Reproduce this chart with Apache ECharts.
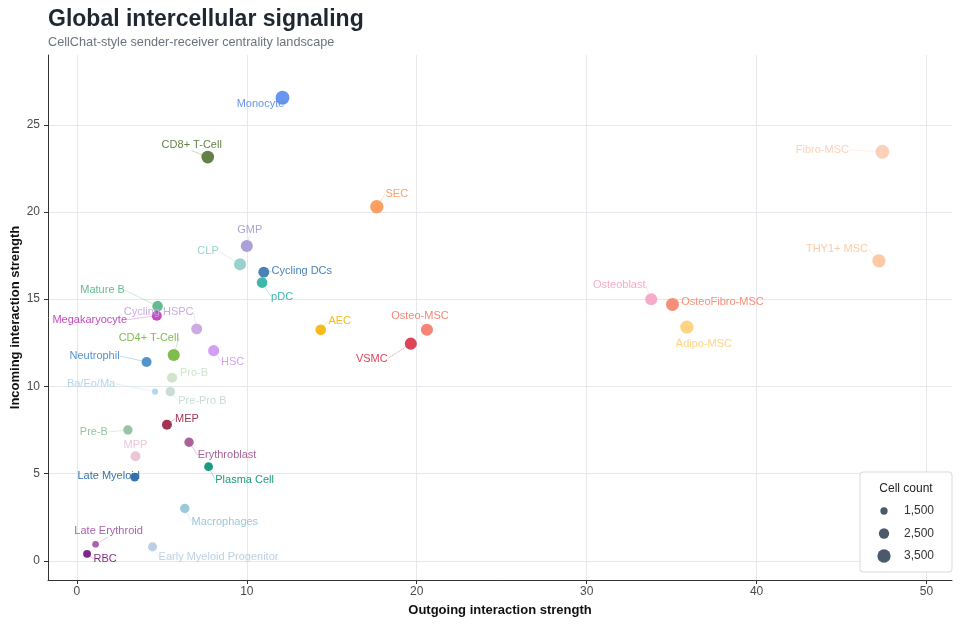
<!DOCTYPE html>
<html>
<head>
<meta charset="utf-8">
<title>Global intercellular signaling</title>
<script src="https://cdn.jsdelivr.net/npm/echarts@6/dist/echarts.min.js"></script>
<style>
  html, body { margin: 0; padding: 0; background: #fff; }
  #chart { width: 960px; height: 625px; }
</style>
</head>
<body>
<div id="chart"></div>
<script>
// values
const cellTypes = [
  'Monocyte', 'CD8+ T-Cell', 'Fibro-MSC', 'SEC', 'GMP', 'CLP', 'Cycling DCs', 'pDC',
  'THY1+ MSC', 'Osteoblast', 'OsteoFibro-MSC', 'Adipo-MSC', 'Mature B', 'Megakaryocyte',
  'Cycling HSPC', 'AEC', 'Osteo-MSC', 'VSMC', 'CD4+ T-Cell', 'HSC', 'Neutrophil', 'Pro-B',
  'Ba/Eo/Ma', 'Pre-Pro B', 'MEP', 'Pre-B', 'Erythroblast', 'MPP', 'Plasma Cell',
  'Late Myeloid', 'Macrophages', 'Late Erythroid', 'Early Myeloid Progenitor', 'RBC'
]
const outgoing = [
  12.1, 7.7, 47.4, 17.65, 10.0, 9.6, 11.0, 10.9,
  47.2, 33.8, 35.05, 35.9, 4.75, 4.7,
  7.05, 14.35, 20.6, 19.65, 5.7, 8.05, 4.1, 5.6,
  4.6, 5.5, 5.3, 3.0, 6.6, 3.45, 7.75,
  3.4, 6.35, 1.1, 4.45, 0.6
]
const incoming = [
  26.55, 23.15, 23.45, 20.3, 18.05, 17.0, 16.55, 15.95,
  17.2, 15.0, 14.7, 13.4, 14.6, 14.05,
  13.3, 13.25, 13.25, 12.45, 11.8, 12.05, 11.4, 10.5,
  9.7, 9.7, 7.8, 7.5, 6.8, 6.0, 5.4,
  4.8, 3.0, 0.95, 0.8, 0.4
]
const cellCounts = [
  3700, 3300, 3700, 3500, 3100, 3100, 2700, 2600,
  3500, 3100, 3400, 3500, 2600, 2400,
  2700, 2600, 3100, 3100, 3100, 2800, 2400, 2400,
  1100, 2200, 2400, 2200, 2200, 2400, 2000,
  2000, 2200, 1300, 2100, 1700
]
const legendCounts = [1500, 2500, 3500]
const xTicks = [0, 10, 20, 30, 40, 50]
const yTicks = [0, 5, 10, 15, 20, 25]

// styling
const palette = [
  '#5f8fee', '#5b7a3c', '#fbcfb6', '#fc9a57', '#a99bd8', '#93cfc8', '#3f7bb3', '#36b3a6',
  '#fcc8a0', '#f4a8c6', '#f38a73', '#fdd27c', '#5cb78a', '#c23fbd',
  '#c8a6e0', '#f8b710', '#f47d6e', '#dc3a4f', '#77b845', '#cf9bf5', '#4c8dc7', '#cce3c6',
  '#acd7ea', '#c7dad3', '#9c2b4b', '#8fc29d', '#a45b92', '#ebc3d5', '#109677',
  '#2c6ba8', '#97c4da', '#a35ca6', '#b9cde2', '#7a1b7e'
]
// label nudges in pixels, relative to the point centre
const labelNudge = [
  [-22, 6], [-16, -12], [-60, -2], [20, -13], [3, -16], [-32, -13], [38, -1], [20, 14],
  [-42, -12], [-32, -14], [50, -2], [17, 17], [-55, -16], [-67, 4],
  [-38, -17], [19, -9], [-7, -14], [-39, 15], [-25, -17], [19, 11], [-52, -6], [22, -5],
  [-64, -8], [32, 9], [20, -6], [-34, 2], [38, 13], [0, -11], [36, 13],
  [-26, -1], [40, 13], [13, -13], [66, 10], [18, 5]
]
const FONT = '"Liberation Sans", Arial, sans-serif'
const sizeFor = (n) => 2.8 + 0.003 * n

const chart = echarts.init(document.getElementById('chart'))

const points = cellTypes.map((name, i) => ({
  name,
  value: [outgoing[i], incoming[i], cellCounts[i]],
  itemStyle: { color: palette[i] },
  label: { color: palette[i] },
  labelLine: { lineStyle: { color: palette[i] } }
}))

// size legend drawn as graphics, radii from the same size scale
const legendBox = { x: 860, y: 472, w: 92, h: 100 }
const legendGraphics = [
  {
    type: 'rect',
    shape: { x: legendBox.x, y: legendBox.y, width: legendBox.w, height: legendBox.h, r: 3 },
    style: { fill: '#fff', stroke: '#d5d9de', lineWidth: 1 },
    z: 100
  },
  {
    type: 'text',
    x: legendBox.x + legendBox.w / 2,
    y: legendBox.y + 17,
    style: { text: 'Cell count', font: '12px ' + FONT, fill: '#222', align: 'center', verticalAlign: 'middle' },
    z: 101
  }
]
legendCounts.forEach((n, i) => {
  const cy = legendBox.y + 39 + i * 22.5
  legendGraphics.push({
    type: 'circle',
    shape: { cx: legendBox.x + 24, cy, r: sizeFor(n) / 2 },
    style: { fill: '#4b5a6b' },
    z: 101
  })
  legendGraphics.push({
    type: 'text',
    x: legendBox.x + 44,
    y: cy,
    style: { text: n.toLocaleString('en-US'), font: '12px ' + FONT, fill: '#333', align: 'left', verticalAlign: 'middle' },
    z: 101
  })
})

chart.setOption({
  animation: false,
  backgroundColor: '#fff',
  textStyle: { fontFamily: FONT },
  title: {
    text: 'Global intercellular signaling',
    subtext: 'CellChat-style sender-receiver centrality landscape',
    left: 43,
    top: 3,
    itemGap: 5,
    textStyle: { fontSize: 23, fontWeight: 'bold', color: '#1f2731', fontFamily: FONT },
    subtextStyle: { fontSize: 12.7, color: '#6b7380', fontFamily: FONT }
  },
  grid: { left: 48, right: 8, top: 55, bottom: 45, containLabel: false, outerBoundsMode: 'none' },
  xAxis: {
    type: 'value',
    min: -1.7,
    max: 51.5,
    name: 'Outgoing interaction strength',
    nameLocation: 'middle',
    nameGap: 24,
    nameMoveOverlap: false,
    nameTextStyle: { fontSize: 13, fontWeight: 'bold', color: '#111', fontFamily: FONT, verticalAlign: 'top' },
    axisLine: { show: true, onZero: false, lineStyle: { color: '#333', width: 1 } },
    axisTick: { show: true, customValues: xTicks, length: 4, lineStyle: { color: '#333' } },
    axisLabel: { customValues: xTicks, color: '#4a4a4a', fontSize: 12, margin: 6 },
    splitLine: { show: true, lineStyle: { color: '#e6e8eb', width: 1 } }
  },
  yAxis: {
    type: 'value',
    min: -1.1,
    max: 29.0,
    name: 'Incoming interaction strength',
    nameLocation: 'middle',
    nameGap: 26,
    nameMoveOverlap: false,
    nameTextStyle: { fontSize: 13, fontWeight: 'bold', color: '#111', fontFamily: FONT },
    axisLine: { show: true, onZero: false, lineStyle: { color: '#333', width: 1 } },
    axisTick: { show: true, customValues: yTicks, length: 4, lineStyle: { color: '#333' } },
    axisLabel: { customValues: yTicks, color: '#4a4a4a', fontSize: 12, margin: 8 },
    splitLine: { show: true, lineStyle: { color: '#e6e8eb', width: 1 } }
  },
  series: [{
    type: 'scatter',
    data: points,
    symbolSize: (v) => sizeFor(v[2]),
    itemStyle: { opacity: 0.95 },
    label: {
      show: true,
      formatter: '{b}',
      position: 'inside',
      fontSize: 11,
      fontFamily: FONT
    },
    labelLayout: (p) => ({ dx: labelNudge[p.dataIndex][0], dy: labelNudge[p.dataIndex][1] }),
    labelLine: { show: true, lineStyle: { width: 0.7, opacity: 0.45 } },
    emphasis: { disabled: true }
  }],
  graphic: legendGraphics
})

window.addEventListener('resize', () => chart.resize())
</script>
</body>
</html>
